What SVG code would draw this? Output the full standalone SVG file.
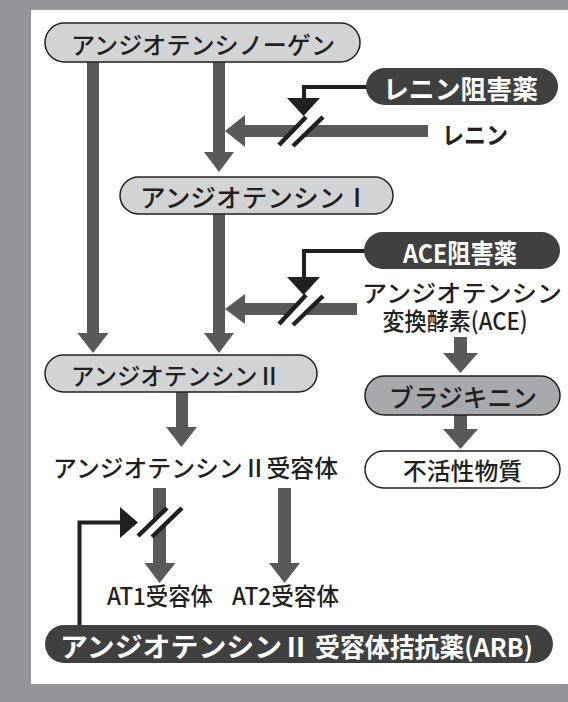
<svg xmlns="http://www.w3.org/2000/svg" width="568" height="702" viewBox="0 0 568 702">
<style>
.bar{fill:#58595b}
.inh{fill:none;stroke:#231f20;stroke-width:4}
.head{fill:#231f20}
.slw{stroke:#fff;stroke-width:9}
.slb{stroke:#231f20;stroke-width:4.5}
.box{fill:#d1d3d4;stroke:#231f20;stroke-width:1.5}
.pill{fill:#404041}
.t{font-family:"Noto Sans CJK JP","Noto Sans",sans-serif;fill:#231f20;font-weight:500;dominant-baseline:central}
.tb{font-weight:bold}
.pt{font-family:"Noto Sans CJK JP","Noto Sans",sans-serif;fill:#fff;font-weight:bold;dominant-baseline:central}
</style>
<rect x="0" y="0" width="568" height="702" fill="#939598"/>
<rect x="31" y="10" width="537" height="674" fill="#fff"/>

<g id="connectors">
  <rect class="bar" x="87" y="62" width="12" height="271"/>
  <polygon class="bar" points="77.5,333 108.5,333 93,353"/>
  <rect class="bar" x="213" y="62" width="12" height="90"/>
  <polygon class="bar" points="204,152 234,152 219,172"/>
  <rect class="bar" x="213" y="214" width="12" height="119"/>
  <polygon class="bar" points="204,333 234,333 219,353"/>
  <rect class="bar" x="245" y="125" width="183" height="12"/>
  <polygon class="bar" points="245,115 245,147 225,131"/>
  <rect class="bar" x="245" y="303" width="112" height="12"/>
  <polygon class="bar" points="245,294 245,324 225,309"/>
  <rect class="bar" x="176" y="392" width="12" height="35"/>
  <polygon class="bar" points="166,427 197,427 181.5,447"/>
  <rect class="bar" x="454" y="337" width="13" height="16"/>
  <polygon class="bar" points="443,353 478,353 460.5,373"/>
  <rect class="bar" x="454" y="415" width="13" height="14"/>
  <polygon class="bar" points="443,429 478,429 460.5,449"/>
  <rect class="bar" x="153" y="488" width="13" height="75"/>
  <polygon class="bar" points="144.5,563 175.5,563 159.5,583"/>
  <rect class="bar" x="278" y="488" width="13" height="75"/>
  <polygon class="bar" points="269,563 300,563 284.5,583"/>

  <polyline class="inh" points="368,87 304,87 304,99"/>
  <polygon class="head" points="287,98 320,98 303.5,116"/>
  <line class="slw" x1="286" y1="146" x2="315" y2="117"/>
  <line class="slb" x1="279" y1="145" x2="306" y2="117"/>
  <line class="slb" x1="293" y1="146" x2="323" y2="117"/>
  <polyline class="inh" points="366,251 304,251 304,278"/>
  <polygon class="head" points="287,277 320,277 303.5,295"/>
  <line class="slw" x1="286" y1="324" x2="315" y2="296"/>
  <line class="slb" x1="279" y1="324" x2="306" y2="295"/>
  <line class="slb" x1="293" y1="325" x2="323" y2="296"/>
  <polyline class="inh" points="79.5,626 79.5,522.5 122,522.5"/>
  <polygon class="head" points="120,507 120,538 138,522.5"/>
  <line class="slw" x1="145" y1="537" x2="175" y2="508"/>
  <line class="slb" x1="138" y1="536" x2="167" y2="508"/>
  <line class="slb" x1="152" y1="537" x2="182" y2="508"/>
</g>

<g id="angiotensinogen">
  <rect class="box" x="45" y="23" width="315" height="39" rx="19.5"/>
  <text class="t" x="203" y="43" font-size="24" text-anchor="middle" textLength="264" lengthAdjust="spacingAndGlyphs">アンジオテンシノーゲン</text>
</g>
<g id="angiotensin1">
  <rect class="box" x="120" y="177" width="273" height="37" rx="18.5"/>
  <text class="t" x="255" y="196" font-size="25" text-anchor="middle" textLength="230" lengthAdjust="spacingAndGlyphs">アンジオテンシンⅠ</text>
</g>
<g id="angiotensin2">
  <rect class="box" x="45" y="355" width="272" height="37" rx="18.5"/>
  <text class="t" x="176" y="374" font-size="24" text-anchor="middle" textLength="210" lengthAdjust="spacingAndGlyphs">アンジオテンシンⅡ</text>
</g>
<g id="renin-inhibitor">
  <rect class="pill" x="366" y="68" width="192" height="37" rx="18.5"/>
  <text class="pt" x="460.5" y="87" font-size="26" text-anchor="middle" textLength="155" lengthAdjust="spacingAndGlyphs">レニン阻害薬</text>
</g>
<g id="renin">
  <text class="t tb" x="442" y="133" font-size="24" textLength="66" lengthAdjust="spacingAndGlyphs">レニン</text>
</g>
<g id="ace-inhibitor">
  <rect class="pill" x="364" y="232" width="196" height="37" rx="18.5"/>
  <text class="pt" x="460" y="251" font-size="26" text-anchor="middle" textLength="114" lengthAdjust="spacingAndGlyphs">ACE阻害薬</text>
</g>
<g id="ace">
  <text class="t" x="462" y="291" font-size="24" text-anchor="middle" textLength="200" lengthAdjust="spacingAndGlyphs">アンジオテンシン</text>
  <text class="t" x="455" y="319" font-size="24" text-anchor="middle" textLength="145" lengthAdjust="spacingAndGlyphs">変換酵素(ACE)</text>
</g>
<g id="bradykinin">
  <rect x="365" y="376" width="195" height="39" rx="19.5" fill="#a7a9ac" stroke="#231f20" stroke-width="1.5"/>
  <text class="t" x="463" y="395.5" font-size="25" text-anchor="middle" textLength="148" lengthAdjust="spacingAndGlyphs">ブラジキニン</text>
</g>
<g id="inactive">
  <rect x="365" y="451" width="195" height="37" rx="18.5" fill="#fff" stroke="#231f20" stroke-width="1.5"/>
  <text class="t" x="462.5" y="469.5" font-size="24" text-anchor="middle" textLength="119" lengthAdjust="spacingAndGlyphs">不活性物質</text>
</g>
<g id="receptor">
  <text class="t" x="53" y="466" font-size="24" textLength="285" lengthAdjust="spacingAndGlyphs">アンジオテンシンⅡ受容体</text>
</g>
<g id="at1">
  <text class="t" x="107" y="594" font-size="24" textLength="106" lengthAdjust="spacingAndGlyphs">AT1受容体</text>
</g>
<g id="at2">
  <text class="t" x="232" y="594" font-size="24" textLength="107" lengthAdjust="spacingAndGlyphs">AT2受容体</text>
</g>
<g id="arb">
  <rect class="pill" x="45" y="625" width="508" height="38" rx="19"/>
  <text class="pt" x="60" y="645" font-size="27" textLength="250" lengthAdjust="spacingAndGlyphs">アンジオテンシンⅡ</text>
  <text class="pt" x="315" y="645" font-size="26" textLength="218" lengthAdjust="spacingAndGlyphs">受容体拮抗薬(ARB)</text>
</g>
</svg>
